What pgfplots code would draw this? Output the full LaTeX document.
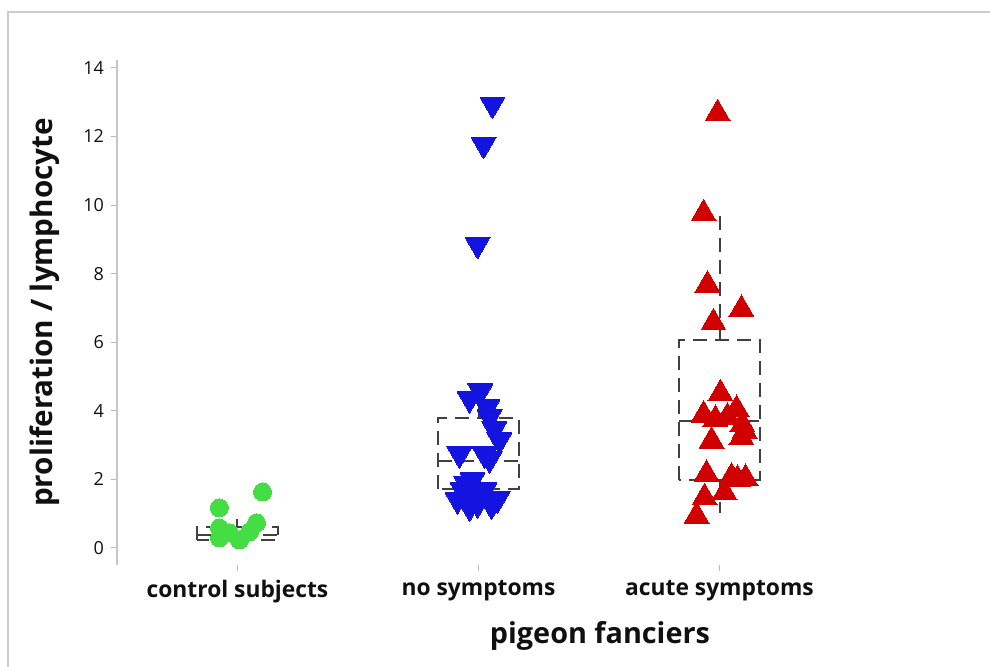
\documentclass[border=0pt]{standalone}
\usepackage{fontspec}
\setmainfont{Open Sans}
\usepackage{pgfplots}
\pgfplotsset{compat=1.18}
\usepgfplotslibrary{statistics}
\definecolor{cgreen}{HTML}{44DD44}
\definecolor{cblue}{HTML}{1414E0}
\definecolor{cred}{HTML}{D00000}
\definecolor{boxc}{HTML}{404040}
\definecolor{txt}{HTML}{101010}
\begin{document}
\begin{tikzpicture}
\path[use as bounding box] (-58.5pt,-50.5pt) rectangle (436.5pt,282.5pt);
\draw[color=gray!40, line width=0.75pt] (-54.5pt,-52pt) -- (-54.5pt,276.5pt) -- (438pt,276.5pt);
\begin{axis}[
  at={(0,0)}, anchor=south west,
  scale only axis, width=361.5pt, height=252.5pt,
  xmin=-0.5, xmax=2.5, ymin=-0.5, ymax=14.23,
  axis y line*=left, axis x line*=bottom,
  axis line style={-},
  x axis line style={draw=none},
  y axis line style={draw=gray!45, line width=0.75pt},
  tick style={draw=gray!55, line width=0.5pt},
  major tick length=3pt, tick align=outside,
  ytick={0,2,...,14},
  xtick={0,1,2},
  xticklabels={control subjects, no symptoms, acute symptoms},
  /pgf/number format/assume math mode=true,
  yticklabel style={font=\fontsize{9}{10}\selectfont, text=txt},
  xticklabel style={font=\bfseries\fontsize{11.4}{14}\selectfont, text=txt, yshift=-1pt},
  xlabel={pigeon fanciers},
  ylabel={proliferation / lymphocyte},
  xlabel style={font=\bfseries\fontsize{14.4}{18}\selectfont, text=txt, at={(axis description cs:0.668,-0.1406)}, anchor=center},
  ylabel style={font=\bfseries\fontsize{14.8}{18}\selectfont, text=txt, at={(axis description cs:-0.0996,0.5)}, anchor=center},
  clip=false,
  boxplot/draw direction=y,
  boxplot/whisker extend=0,
]
% boxes
\addplot[boxc, line width=1pt, dash pattern=on 7pt off 4pt, boxplot prepared={draw position=0, lower whisker=0.2, lower quartile=0.23, median=0.38, upper quartile=0.61, upper whisker=0.85, box extend=0.336, whisker extend=0}] coordinates {};
\addplot[boxc, line width=1pt, dash pattern=on 7pt off 4pt, boxplot prepared={draw position=1, lower whisker=1.1, lower quartile=1.72, median=2.54, upper quartile=3.79, upper whisker=4.5, box extend=0.336, whisker extend=0}] coordinates {};
\addplot[boxc, line width=1pt, dash pattern=on 7pt off 4pt, boxplot prepared={draw position=2, lower whisker=1.02, lower quartile=1.98, median=3.70, upper quartile=6.07, upper whisker=9.77, box extend=0.336, whisker extend=0}] coordinates {};
% control subjects
\addplot[only marks, color=cgreen, mark=*, mark size=4.5pt, mark options={solid, fill=cgreen, draw=cgreen, line width=0pt}] coordinates {
(0.104,1.63) (-0.075,1.17) (-0.075,0.58) (-0.075,0.29) (-0.033,0.44) (0.008,0.23) (0.050,0.47) (0.079,0.73)
};
% no symptoms
\addplot[only marks, color=cblue, mark=triangle*, mark size=7.2pt, mark options={solid, fill=cblue, draw=cblue, line width=0pt, rotate=180}] coordinates {
(1.058,12.94) (1.021,11.77) (0.996,8.85) (1.008,4.57) (0.963,4.35) (1.037,4.11) (1.046,3.82) (1.066,3.47)
(1.087,3.15) (0.921,2.74) (1.025,2.74) (1.046,2.60) (0.975,1.98) (0.950,1.87) (0.934,1.69) (1.025,1.69)
(1.079,1.43) (0.913,1.40) (0.996,1.28) (0.963,1.19) (1.054,1.25) (0.975,1.58)
};
% acute symptoms
\addplot[only marks, color=cred, mark=triangle*, mark size=7.2pt, mark options={solid, fill=cred, draw=cred, line width=0pt}] coordinates {
(1.992,12.67) (1.934,9.75) (1.950,7.67) (2.091,6.96) (1.975,6.57) (2.004,4.50) (2.071,4.04) (1.934,3.88)
(1.983,3.75) (2.033,3.82) (2.095,3.60) (2.104,3.41) (1.967,3.12) (2.091,3.22) (1.946,2.15) (2.050,2.07)
(2.075,2.00) (2.108,2.03) (1.938,1.47) (2.021,1.61) (1.905,0.93)
};
\end{axis}
\end{tikzpicture}
\end{document}
